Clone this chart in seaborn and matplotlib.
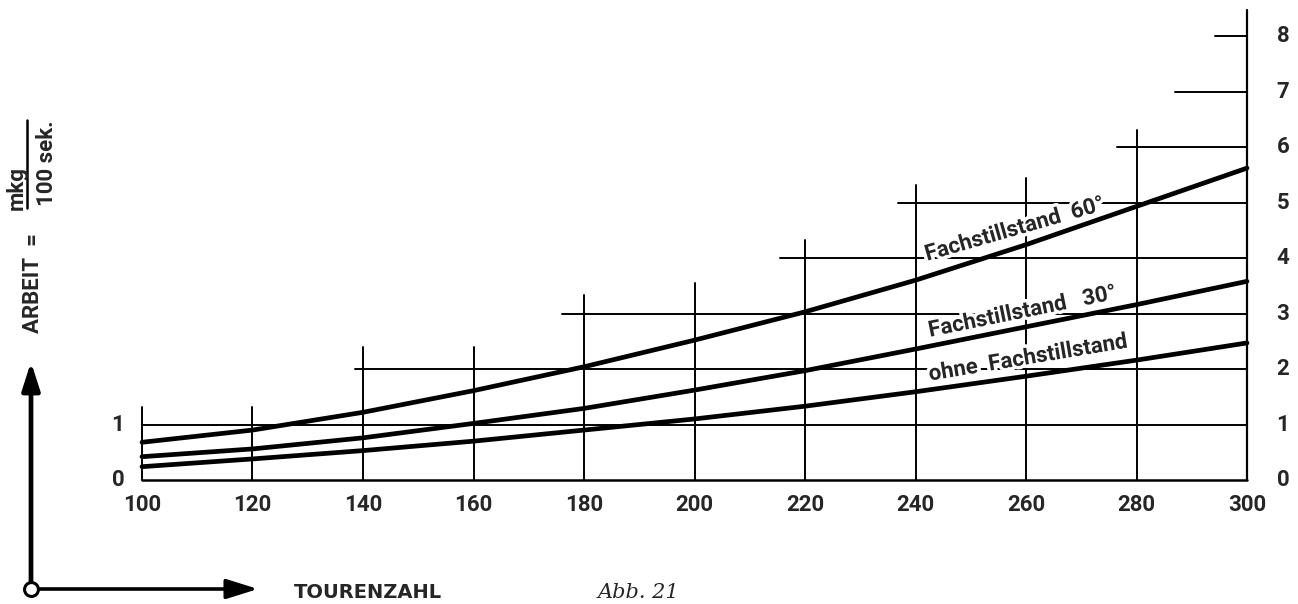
import pandas as pd
import matplotlib.pyplot as plt
import matplotlib.patheffects as pe
import seaborn as sns

sns.set_theme(style="white")
plt.rcParams['font.family'] = ['Roboto', 'DejaVu Sans']

# --- data ---
tourenzahl = [100, 120, 140, 160, 180, 200, 220, 240, 260, 280, 300]
fach_60 = [0.68, 0.90, 1.22, 1.61, 2.04, 2.52, 3.03, 3.60, 4.24, 4.93, 5.62]
fach_30 = [0.42, 0.56, 0.76, 1.02, 1.29, 1.62, 1.97, 2.36, 2.76, 3.16, 3.58]
ohne = [0.24, 0.38, 0.53, 0.70, 0.90, 1.10, 1.33, 1.59, 1.87, 2.16, 2.47]

x_ticks = [100, 120, 140, 160, 180, 200, 220, 240, 260, 280, 300]
y_ticks = [0, 1, 2, 3, 4, 5, 6, 7, 8]
# staircase grid: height of each vertical line, start of each horizontal line
v_tops = [1.32, 1.32, 2.4, 2.4, 3.33, 3.55, 4.32, 5.31, 5.44, 6.31, 8.47]
h_starts = [100, 100, 138.6, 176, 215.5, 236.8, 276.5, 287, 294.2]

df = pd.DataFrame({
    "tourenzahl": tourenzahl * 3,
    "arbeit": fach_60 + fach_30 + ohne,
    "kurve": ["60"] * 11 + ["30"] * 11 + ["ohne"] * 11,
})

fig = plt.figure(figsize=(12.98, 6.04), dpi=100)
ax = fig.add_axes([0, 0, 1, 1])
ax.set_xlim(74.299, 309.23)
ax.set_ylim(-2.234, 8.649)
ax.axis("off")

# grid
for xv, top in zip(x_ticks, v_tops):
    ax.plot([xv, xv], [0, top], color="black", lw=1.4 if xv < 300 else 1.6, zorder=1)
for yv, start in zip(y_ticks, h_starts):
    ax.plot([start, 300], [yv, yv], color="black", lw=1.4 if yv > 0 else 1.8, zorder=1)

sns.lineplot(data=df, x="tourenzahl", y="arbeit", hue="kurve",
             palette=["black", "black", "black"], linewidth=3.4,
             legend=False, ax=ax, zorder=3)

halo = [pe.withStroke(linewidth=5, foreground="white")]
lab = dict(fontsize=16, fontweight="bold", ha="left", va="baseline",
           rotation_mode="anchor", zorder=4, path_effects=halo)
ax.text(242.1, 3.95, "Fachstillstand  60°", rotation=16, **lab)
ax.text(242.6, 2.58, "Fachstillstand   30°", rotation=11.5, **lab)
ax.text(242.6, 1.79, "ohne  Fachstillstand", rotation=9.5, **lab)

tick = dict(fontsize=16, fontweight="bold", ha="center", va="center")
for xv in x_ticks:
    ax.text(xv, -0.45, str(xv), **tick)
for yv in y_ticks:
    ax.text(306.5, yv, str(yv), **tick)
for yv in [0, 1]:
    ax.text(95.66, yv, str(yv), **tick)

# axis indicator arrows, bottom left
ax.annotate("", xy=(31, 242), xytext=(31, 15), xycoords="figure pixels",
            textcoords="figure pixels",
            arrowprops=dict(arrowstyle="-|>,head_length=1.4,head_width=0.45",
                            color="black", lw=3.4, shrinkA=0, shrinkB=0))
ax.annotate("", xy=(258, 15), xytext=(31, 15), xycoords="figure pixels",
            textcoords="figure pixels",
            arrowprops=dict(arrowstyle="-|>,head_length=1.6,head_width=0.5",
                            color="black", lw=2.6, shrinkA=0, shrinkB=0))
ax.plot([80.0], [-1.964], marker="o", ms=10, mfc="white", mec="black", mew=2.2, zorder=5)

fig.text(294 / 1298, 11 / 604, "TOURENZAHL", fontsize=14, fontweight="bold",
         family="DejaVu Sans", ha="left", va="center")
fig.text(598 / 1298, 11 / 604, "Abb. 21", fontsize=15, style="italic",
         family="DejaVu Serif", ha="left", va="center")

# y axis title
fig.text(33 / 1298, 271 / 604, "ARBEIT  =", fontsize=16, fontweight="bold",
         rotation=90, ha="center", va="bottom")
fig.text(17 / 1298, 416 / 604, "mkg", fontsize=16, fontweight="bold",
         rotation=90, ha="center", va="center")
fig.text(47 / 1298, 441 / 604, "100 sek.", fontsize=16, fontweight="bold",
         rotation=90, ha="center", va="center")
fig.add_artist(plt.Line2D([27 / 1298, 27 / 1298], [396 / 604, 484 / 604],
                          color="black", lw=1.8))

fig.savefig("out.png", dpi=100, facecolor="white")
